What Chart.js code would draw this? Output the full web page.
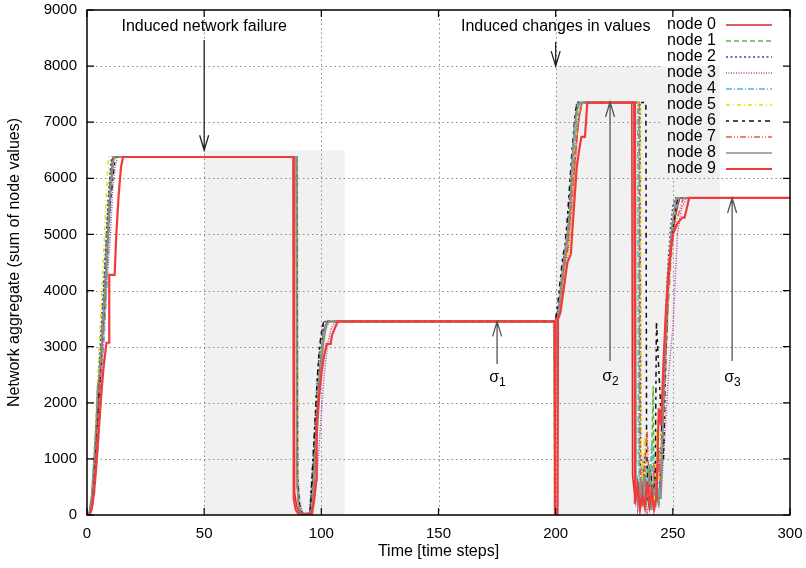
<!DOCTYPE html>
<html>
<head>
<meta charset="utf-8">
<script src="https://cdn.jsdelivr.net/npm/chart.js@4"></script>
<style>
  body { margin: 0; background: #fff; }
  #wrap { width: 806px; height: 568px; }
</style>
</head>
<body>
<div id="wrap"><canvas id="myChart" width="806" height="568"></canvas></div>
<script>
// ejes y marcas
const xTicks = [0, 50, 100, 150, 200, 250, 300];
const yTicks = [0, 1000, 2000, 3000, 4000, 5000, 6000, 7000, 8000, 9000];
const nodeNames = ["node 0", "node 1", "node 2", "node 3", "node 4", "node 5", "node 6", "node 7", "node 8", "node 9"];

// zonas sombreadas [t inicio, t fin, valor tope]
const shadedZones = [[50, 110, 6500], [200, 270, 8000]];

// valores: [paso de tiempo, agregado]
const node0 = [[0,0],[1,20],[2,200],[3,600],[4,1300],[5,2100],[6,2800],[7,3500],[8,4300],[9,5100],[10,5800],[11,6380],
  [88.3,6380],[88.6,400],[89.5,150],[91,20],[95,10],[96,400],[97,1000],[98,1700],[99,2400],[100,2900],[101,3300],[102.5,3450],
  [199.5,3450],[200,3480],[201,3600],[202,3900],[203,4200],[204,4550],[205,4700],[206,5200],[207,5700],[208,6200],[209,6700],[210,7100],[211,7350],
  [232.5,7350],[232.8,700],[234,250],[235,600],[236,200],[237,450],[238,150],[239,350],[240,120],[241,500],[242,250],[243,400],[244,200],
  [245,900],[246,2000],[247,3000],[248,4000],[249,4600],[250,5000],[251,5300],[252,5500],[253,5650],[300,5650]];
const node1 = [[0,0],[1,30],[2,250],[3,800],[4,1500],[5,2300],[6,3100],[7,3900],[8,4700],[9,5500],[10,6100],[10.8,6380],
  [89.5,6380],[89.8,600],[90.5,200],[91.5,30],[95.5,20],[96.5,600],[97.5,1300],[98.5,2000],[99.5,2700],[100.5,3100],[101.5,3350],[102.5,3450],
  [199.6,3450],[200.2,3400],[201,3550],[202,3850],[203,4250],[204,4600],[205,4900],[206,5400],[207,5900],[208,6500],[209,7000],[210,7350],
  [235.5,7350],[235.8,800],[236.5,300],[237.5,900],[238.5,150],[239.5,400],[240.5,100],[241.6,2300],[242,200],[243,500],[244,150],
  [245,700],[246,1900],[247,3100],[248,4200],[249,4800],[250,5200],[251,5450],[252,5650],[300,5650]];
const node2 = [[0,0],[1,40],[2,300],[3,900],[4,1700],[5,2500],[6,3300],[7,4000],[8,4800],[9,5600],[10,6200],[10.5,6380],
  [89.6,6380],[89.9,500],[90.6,120],[92,10],[95,30],[96,700],[97,1400],[98,2200],[99,2800],[100,3200],[101,3400],[101.5,3450],
  [199.4,3450],[199.6,1500],[200,3450],[201,3650],[202,4000],[203,4500],[204,4700],[205,5100],[206,5700],[207,6300],[208,6900],[209,7350],
  [236,7350],[236.3,900],[237,400],[238,1100],[239,250],[240,600],[241,150],[242,800],[243,300],[244,1200],[244.5,400],
  [245,1400],[246,2600],[247,3600],[248,4500],[249,5100],[250,5500],[251,5650],[300,5650]];
const node3 = [[0,0],[1,10],[2,120],[3,450],[4,1000],[5,1700],[6,2400],[7,3100],[8,3800],[9,4400],[10,5000],[11,5800],[12,6200],[13,6380],
  [89.7,6380],[90,700],[90.8,250],[92,40],[96,20],[97,200],[98,600],[99,1200],[100,1800],[101,2400],[102,2800],[103,3100],[104,3300],[106,3450],
  [199,3450],[199.4,2700],[200.5,3500],[201.5,3500],[202.5,3800],[203.5,4100],[204.5,4400],[205.5,4700],[206.5,5100],[207.5,5700],[208.5,6300],[209.5,6900],[211,7350],
  [233.5,7350],[233.8,800],[235,100],[236,400],[237,1000],[238,200],[239,50],[240,300],[241,80],[242,500],[243,150],[244,900],[245,400],
  [246,1000],[247,1700],[248,2400],[249,2900],[250,3300],[251,4200],[252,5000],[253,5300],[254,5500],[256,5650],[300,5650]];
const node4 = [[0,0],[1,0],[2,80],[3,300],[4,800],[5,1400],[6,2100],[7,2900],[8,3700],[9,4600],[10,5500],[11,6200],[11.5,6380],
  [89.4,6380],[89.7,600],[90.4,150],[91.6,20],[95.6,40],[96.6,500],[97.6,1200],[98.6,1900],[99.6,2600],[100.6,3100],[101.6,3350],[103,3450],
  [199.3,3450],[199.5,80],[200.2,3350],[201,3500],[202,3800],[203,4150],[204,4500],[205,4800],[206,5300],[207,5900],[208,6500],[209,7000],[210.5,7350],
  [235,7350],[235.3,1000],[236,300],[237,700],[238,200],[239,900],[240,400],[241,1300],[242,300],[243,700],[244,250],
  [245,1000],[246,2100],[247,3100],[248,4100],[249,4700],[250,5100],[251,5400],[252.5,5650],[300,5650]];
const node5 = [[0,0],[1,60],[2,400],[3,1100],[4,1900],[5,2800],[6,3700],[7,4600],[8,5500],[8.6,6000],[9.2,6380],
  [89.8,6380],[90.1,400],[90.8,100],[92,20],[95.8,10],[96.8,500],[97.8,1300],[98.8,2000],[99.8,2600],[100.8,3000],[101.8,3300],[103,3450],
  [199.5,3450],[200,3400],[201,3450],[202,3700],[203,4000],[204,4300],[205,4600],[206,5000],[207,5600],[208,6200],[209,6800],[210,7200],[211,7350],
  [236.2,7350],[236.5,1200],[237,600],[238,1400],[239,500],[240,250],[241,700],[242,200],[243,1500],[244,600],
  [245,1300],[246,2300],[247,3300],[248,4300],[249,4900],[250,5300],[251,5500],[252,5650],[300,5650]];
const node6 = [[0,0],[1,30],[2,220],[3,700],[4,1400],[5,2000],[6,2700],[7,3400],[8,4200],[9,5000],[10,5600],[11,6000],[12,6380],
  [89.5,6380],[89.8,700],[90.6,200],[92,0],[95.2,30],[96.2,800],[97.2,1600],[98.2,2400],[99.2,3000],[100.2,3300],[101,3450],
  [199.5,3450],[200,3500],[201,3800],[202,4200],[203,4600],[204,4800],[205,5300],[206,5900],[207,6500],[208,7000],[209,7350],
  [238.5,7350],[238.8,1200],[239.5,400],[240.5,800],[241.5,300],[242.5,700],[243,3450],[244,2600],[245,1800],[246,1000],
  [247,2800],[248,4000],[249,4700],[250,5100],[251,5400],[252,5650],[300,5650]];
const node7 = [[0,0],[1,20],[2,180],[3,550],[4,1150],[5,1900],[6,2600],[7,3300],[8,4100],[9,4900],[10,5700],[11,6200],[11.8,6380],
  [89.3,6380],[89.6,500],[90.3,100],[91.8,10],[95.6,20],[96.6,400],[97.6,1100],[98.6,1800],[99.6,2500],[100.6,3000],[101.6,3300],[103.5,3450],
  [199.6,3450],[200,3450],[201,3550],[202,3850],[203,4200],[204,4500],[205,4800],[206,5200],[207,5700],[208,6300],[209,6800],[210,7100],[211.5,7350],
  [235.7,7350],[236,900],[237,300],[238,800],[239,1500],[240,400],[241,200],[242,900],[243,350],[244,1100],[245,500],
  [246,1600],[247,2700],[248,3700],[249,4400],[250,4900],[251,5200],[252,5300],[253,5450],[254.5,5650],[300,5650]];
const node8 = [[0,0],[1,50],[2,350],[3,1000],[4,1700],[4.5,2300],[5,2400],[6,2900],[7,3600],[8,4300],[9,5100],[10,5800],[11,6200],[11.5,6380],
  [89.2,6380],[89.5,800],[90.2,200],[91.5,10],[96,40],[97,600],[98,1300],[99,2000],[100,2700],[101,3100],[102,3350],[103,3450],
  [199.4,3450],[199.6,900],[200.3,3450],[201,3550],[202,3950],[203,4400],[204,4700],[205,5000],[206,5400],[207,6300],[208,6900],[209,7200],[210,7350],
  [234,7350],[234.3,600],[235,200],[236,500],[237,150],[238,700],[239,300],[240,900],[241,200],[242,400],[243,600],[244,300],[245,300],
  [245.5,1300],[246.5,2600],[247.5,3700],[248.5,4500],[249.5,5100],[250.5,5400],[251.5,5650],[300,5650]];
const node9 = [[0,0],[1,0],[2,100],[3,400],[4,900],[5,1500],[6,2100],[7,2600],[8.3,3070],[9.4,3070],[9.5,4280],[11.8,4280],[12.5,5000],[13.5,5700],[14.5,6200],[15.4,6380],
  [88,6380],[88.2,300],[89,100],[90.5,0],[96,20],[97,300],[97.8,620],[98,1660],[99,2100],[100,2500],[101,2800],[102.3,3050],[104,3050],[104.5,3200],[107,3450],
  [199.6,3450],[199.7,0],[200.8,0],[201,3500],[202,3600],[203,3900],[204,4200],[205,4500],[206,4600],[206.5,4650],[207,5000],[208,5600],[209,6200],[210,6500],[211,6740],[212.5,6740],[213.5,7350],
  [233.5,7350],[233.8,200],[235,500],[236,100],[237,350],[238,150],[239,600],[240,200],[241,400],[242,100],[243,300],[244,1900],[245,1600],
  [246,2700],[247,3600],[248,4300],[249,4700],[250,5000],[251,5100],[252,5200],[254,5300],[255,5300],[257,5650],[300,5650]];
const nodes = [node0, node1, node2, node3, node4, node5, node6, node7, node8, node9];

// estilos de linea (estilo gnuplot)
const nodeColors = ["#d42a2a", "#5cb83c", "#2a4a9e", "#a64ca6", "#4cbcd4", "#e6e000", "#111111", "#ee5a3c", "#8c8c8c", "#f23a3a"];
const nodeWidths = [1.5, 1.5, 1.5, 1.5, 1.5, 1.5, 1.5, 1.5, 1.6, 2.2];
const nodeDashes = [[], [5, 3], [2, 2.5], [1, 1.5], [6, 2, 1, 2], [4, 3, 1, 3], [3, 4, 5, 4], [6, 2, 1, 2, 1, 2], [], []];

const FONT = "'Liberation Sans', Arial, sans-serif";

const datasets = nodes.map((pts, i) => ({
  label: nodeNames[i],
  data: pts.map(p => ({ x: p[0], y: p[1] })),
  borderColor: nodeColors[i],
  borderWidth: nodeWidths[i],
  borderDash: nodeDashes[i],
  showLine: true,
  pointRadius: 0,
  fill: false,
  tension: 0,
  order: 9 - i
}));

// flecha vertical, punta en y2
function flecha(ctx, x, y1, y2, color) {
  ctx.save();
  ctx.strokeStyle = color;
  ctx.lineWidth = 1.3;
  ctx.setLineDash([]);
  ctx.beginPath();
  ctx.moveTo(x, y1);
  ctx.lineTo(x, y2);
  const d = y2 > y1 ? -1 : 1;
  ctx.moveTo(x - 4.5, y2 + d * 15);
  ctx.lineTo(x, y2);
  ctx.lineTo(x + 4.5, y2 + d * 15);
  ctx.stroke();
  ctx.restore();
}

function sigma(ctx, x, y, sub) {
  ctx.save();
  ctx.fillStyle = "#000";
  ctx.textBaseline = "alphabetic";
  ctx.font = "16px " + FONT;
  ctx.textAlign = "right";
  ctx.fillText("σ", x + 2, y);
  ctx.font = "12px " + FONT;
  ctx.textAlign = "left";
  ctx.fillText(sub, x + 2, y + 4);
  ctx.restore();
}

const marco = {
  id: "marco",
  beforeDatasetsDraw(chart) {
    const { ctx, chartArea: a, scales: { x, y } } = chart;
    ctx.save();
    // zonas sombreadas
    ctx.fillStyle = "#f1f1f1";
    shadedZones.forEach(z => {
      ctx.fillRect(x.getPixelForValue(z[0]), y.getPixelForValue(z[2]),
        x.getPixelForValue(z[1]) - x.getPixelForValue(z[0]), y.getPixelForValue(0) - y.getPixelForValue(z[2]));
    });
    // grilla punteada
    ctx.strokeStyle = "#8a8a8a";
    ctx.lineWidth = 1;
    ctx.setLineDash([1.5, 3]);
    ctx.beginPath();
    xTicks.slice(1, -1).forEach(t => {
      const px = Math.round(x.getPixelForValue(t)) + 0.5;
      ctx.moveTo(px, a.top); ctx.lineTo(px, a.bottom);
    });
    yTicks.slice(1, -1).forEach(v => {
      const py = Math.round(y.getPixelForValue(v)) + 0.5;
      ctx.moveTo(a.left, py); ctx.lineTo(a.right, py);
    });
    ctx.stroke();
    // caja de la leyenda tapa la grilla
    const lx = 662, ly = 12, lb = 178;
    ctx.fillStyle = "#fff";
    ctx.fillRect(lx, ly, a.right - lx, lb - ly);
    ctx.fillStyle = "#f1f1f1";
    const zx = x.getPixelForValue(shadedZones[1][1]);
    const zy = y.getPixelForValue(shadedZones[1][2]);
    ctx.fillRect(lx, zy, zx - lx, lb - zy);
    ctx.restore();
  },
  afterDatasetsDraw(chart) {
    const { ctx, chartArea: a, scales: { x, y } } = chart;
    ctx.save();
    ctx.setLineDash([]);
    // borde y marcas hacia adentro
    ctx.strokeStyle = "#000";
    ctx.lineWidth = 1.5;
    ctx.strokeRect(a.left, a.top, a.right - a.left, a.bottom - a.top);
    ctx.lineWidth = 1.2;
    ctx.beginPath();
    xTicks.forEach(t => {
      const px = x.getPixelForValue(t);
      ctx.moveTo(px, a.bottom); ctx.lineTo(px, a.bottom - 7);
      ctx.moveTo(px, a.top); ctx.lineTo(px, a.top + 7);
    });
    yTicks.forEach(v => {
      const py = y.getPixelForValue(v);
      ctx.moveTo(a.left, py); ctx.lineTo(a.left + 7, py);
      ctx.moveTo(a.right, py); ctx.lineTo(a.right - 7, py);
    });
    ctx.stroke();

    // anotaciones
    ctx.fillStyle = "#000";
    ctx.font = "16px " + FONT;
    ctx.textAlign = "center";
    ctx.textBaseline = "middle";
    ctx.fillText("Induced network failure", x.getPixelForValue(50), 27);
    ctx.fillText("Induced changes in values", x.getPixelForValue(200), 27);
    flecha(ctx, x.getPixelForValue(50), 40, y.getPixelForValue(6500), "#222");
    flecha(ctx, x.getPixelForValue(200), 42, y.getPixelForValue(8000), "#222");

    const s1 = x.getPixelForValue(175), s2 = x.getPixelForValue(223.2), s3 = x.getPixelForValue(275.3);
    flecha(ctx, s1, 364, y.getPixelForValue(3450), "#555");
    flecha(ctx, s2, 361, y.getPixelForValue(7360), "#555");
    flecha(ctx, s3, 361, y.getPixelForValue(5650), "#555");
    sigma(ctx, s1, 382, "1");
    sigma(ctx, s2, 381, "2");
    sigma(ctx, s3, 382, "3");

    // leyenda
    ctx.font = "16px " + FONT;
    ctx.textAlign = "right";
    ctx.textBaseline = "middle";
    nodeNames.forEach((n, i) => {
      const ry = 25 + i * 16;
      ctx.fillStyle = "#000";
      ctx.fillText(n, 716, ry);
      ctx.strokeStyle = nodeColors[i];
      ctx.lineWidth = nodeWidths[i];
      ctx.setLineDash(nodeDashes[i]);
      ctx.beginPath();
      ctx.moveTo(726, ry); ctx.lineTo(772, ry);
      ctx.stroke();
    });
    ctx.restore();
  }
};

// quita el relleno que Chart.js agrega por las etiquetas
function sinRelleno(s) {
  s.paddingTop = 0; s.paddingBottom = 0; s.paddingLeft = 0; s.paddingRight = 0;
}

const config = {
  type: "scatter",
  data: { datasets },
  options: {
    responsive: false,
    animation: false,
    layout: { padding: { top: 10, right: 16, left: 0, bottom: 0 } },
    plugins: { legend: { display: false }, tooltip: { enabled: false } },
    scales: {
      x: {
        type: "linear",
        min: 0, max: 300,
        afterBuildTicks: s => { s.ticks = xTicks.map(v => ({ value: v })); },
        afterFit: s => { s.height = 53; sinRelleno(s); },
        grid: { display: false, drawTicks: false },
        border: { display: false },
        ticks: { color: "#000", font: { family: FONT, size: 15 }, padding: 10, maxRotation: 0, callback: v => String(v) },
        title: { display: true, text: "Time [time steps]", color: "#000", font: { family: FONT, size: 16 }, padding: { top: 0, bottom: 7 } }
      },
      y: {
        min: 0, max: 9000,
        afterBuildTicks: s => { s.ticks = yTicks.map(v => ({ value: v })); },
        afterFit: s => { s.width = 87; sinRelleno(s); },
        grid: { display: false, drawTicks: false },
        border: { display: false },
        ticks: { color: "#000", font: { family: FONT, size: 15 }, padding: 10, callback: v => String(v) },
        title: { display: true, text: "Network aggregate (sum of node values)", color: "#000", font: { family: FONT, size: 16 }, padding: { top: 5, bottom: 0 } }
      }
    }
  },
  plugins: [marco]
};

const myChart = new Chart(document.getElementById("myChart"), config);
</script>
</body>
</html>
